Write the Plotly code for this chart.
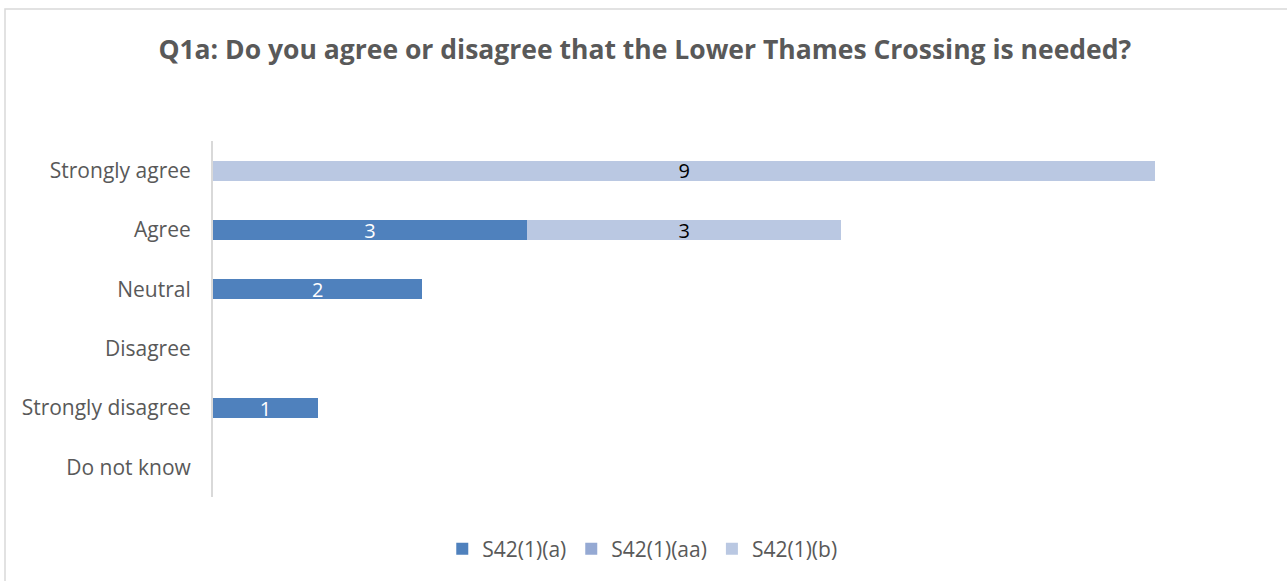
import plotly.graph_objects as go

categories = ["Strongly agree", "Agree", "Neutral", "Disagree", "Strongly disagree", "Do not know"]
series_names = ["S42(1)(a)", "S42(1)(aa)", "S42(1)(b)"]
s42_a = [0, 3, 2, 0, 1, 0]
s42_aa = [0, 0, 0, 0, 0, 0]
s42_b = [9, 3, 0, 0, 0, 0]

colors = ["#4f81bd", "#95a9d3", "#bac8e2"]
label_colors = ["white", "white", "black"]

fig = go.Figure()
for name, vals, col, lc in zip(series_names, [s42_a, s42_aa, s42_b], colors, label_colors):
    fig.add_trace(go.Bar(
        y=categories, x=vals, name=name, orientation="h",
        marker=dict(color=col, line=dict(width=0)),
        text=[str(v) if v else "" for v in vals],
        textposition="inside", insidetextanchor="middle", textangle=0,
        constraintext="none",
        textfont=dict(color=lc, size=20, family="Open Sans"),
        hoverinfo="skip",
    ))

fig.update_layout(
    barmode="stack",
    bargap=0.66,
    width=1287, height=581,
    margin=dict(l=213, r=27, t=141, b=84),
    paper_bgcolor="white", plot_bgcolor="white",
    font=dict(family="Open Sans", color="#595959", size=21),
    title=dict(
        text="<b>Q1a: Do you agree or disagree that the Lower Thames Crossing is needed?</b>",
        x=0.501, xanchor="center", y=0.914, yanchor="middle",
        font=dict(size=26.5, color="#595959", family="Open Sans"),
    ),
    xaxis=dict(range=[0, 10], visible=False, showgrid=False, zeroline=False),
    yaxis=dict(
        autorange="reversed", showgrid=False, zeroline=False,
        showline=True, linecolor="#d9d9d9", linewidth=2,
        ticks="", ticklabelstandoff=16,
        tickfont=dict(size=21, color="#595959"),
    ),
    legend=dict(
        orientation="h", traceorder="normal",
        x=0.41, xanchor="center", y=-0.146, yanchor="middle",
        font=dict(size=21, color="#595959"),
        itemsizing="constant",
    ),
)

# chart frame
fig.add_shape(type="rect", xref="paper", yref="paper",
              x0=-208 / 1047, x1=1300 / 1047, y0=-120 / 356, y1=488 / 356,
              line=dict(color="#d9d9d9", width=1.5), fillcolor="rgba(0,0,0,0)", layer="below")

fig.write_html("out.html")
